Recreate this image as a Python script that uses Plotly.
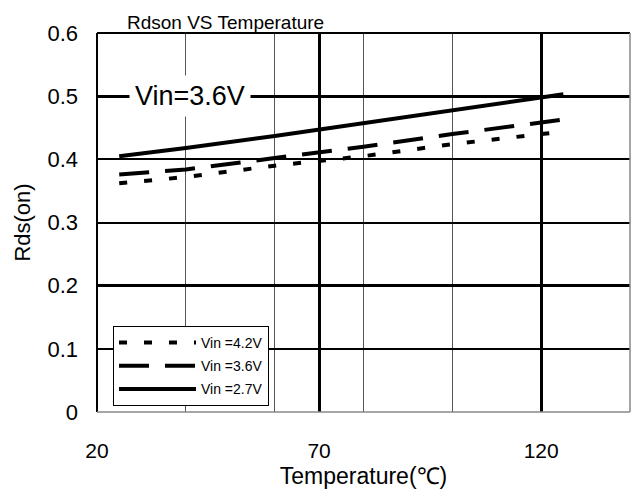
import plotly.graph_objects as go

temps = [25, 40, 60, 80, 100, 125]
rds_42 = [0.362, 0.372, 0.390, 0.405, 0.424, 0.444]
rds_36 = [0.376, 0.384, 0.402, 0.420, 0.440, 0.463]
rds_27 = [0.405, 0.418, 0.437, 0.457, 0.478, 0.503]
series_names = ["Vin =4.2V", "Vin =3.6V", "Vin =2.7V"]
x_ticks = [20, 70, 120]
x_minor = [40, 60, 80, 100]
y_ticks = [0, 0.1, 0.2, 0.3, 0.4, 0.5, 0.6]
y_labels = ["0", "0.1", "0.2", "0.3", "0.4", "0.5", "0.6"]
y_heavy = [0.2, 0.5]

FONT = "Liberation Sans, Arial, sans-serif"

fig = go.Figure()
fig.add_trace(go.Scatter(x=temps, y=rds_42, mode="lines", name=series_names[0], legendgroup="a",
                         line=dict(color="black", width=4, dash="8px,17px")))
fig.add_trace(go.Scatter(x=temps, y=rds_36, mode="lines", name=series_names[1], legendgroup="b",
                         line=dict(color="black", width=4, dash="30px,16px")))
fig.add_trace(go.Scatter(x=temps, y=rds_27, mode="lines", name=series_names[2], legendgroup="c",
                         line=dict(color="black", width=4)))
# invisible trace to carry the heavier gridlines on an overlay axis
fig.add_trace(go.Scatter(x=[temps[0]], y=[rds_27[0]], yaxis="y2", mode="lines",
                         showlegend=False, hoverinfo="skip", line=dict(width=0)))

fig.update_layout(
    width=640, height=493,
    margin=dict(l=97, r=10, t=33, b=81),
    plot_bgcolor="white", paper_bgcolor="white",
    font=dict(family=FONT, color="black"),
    showlegend=True,
    legend=dict(x=0.03, y=0.227, xanchor="left", yanchor="top",
                bordercolor="black", borderwidth=1, bgcolor="white",
                font=dict(size=14, family=FONT), itemwidth=77,
                tracegroupgap=2, traceorder="grouped"),
    xaxis=dict(range=[20, 140], tickvals=x_ticks, ticks="", showline=False, automargin=False,
               showgrid=True, gridcolor="black", gridwidth=3, zeroline=False,
               tickfont=dict(size=21), ticklabelstandoff=24,
               minor=dict(tickvals=x_minor, showgrid=True, gridcolor="#555", gridwidth=1, ticks=""),
               title=dict(text="Temperature(℃)", font=dict(size=23), standoff=6)),
    yaxis=dict(range=[0, 0.6], tickvals=y_ticks, ticktext=y_labels, ticks="", automargin=False,
               showline=False, showgrid=True, gridcolor="black", gridwidth=2,
               zeroline=False, tickfont=dict(size=22), ticklabelstandoff=18,
               title=dict(text="Rds(on)", font=dict(size=22), standoff=10)),
    yaxis2=dict(range=[0, 0.6], overlaying="y", tickvals=y_heavy, showticklabels=False,
                ticks="", showgrid=True, gridcolor="black", gridwidth=3, zeroline=False,
                showline=False, automargin=False),
    shapes=[
        dict(type="line", xref="paper", yref="paper", x0=0, x1=1, y0=1, y1=1, line=dict(color="black", width=2)),
        dict(type="line", xref="paper", yref="paper", x0=0, x1=0, y0=0, y1=1, line=dict(color="black", width=2)),
        dict(type="line", xref="paper", yref="paper", x0=1, x1=1, y0=0, y1=1, line=dict(color="#888", width=1.5)),
        dict(type="line", xref="paper", yref="paper", x0=0, x1=1, y0=0, y1=0, line=dict(color="#888", width=1.5)),
    ],
    annotations=[
        dict(text="Rdson VS Temperature", xref="paper", yref="paper", x=0.052, y=1.0,
             xanchor="left", yanchor="bottom", showarrow=False, yshift=-2,
             font=dict(size=19, family=FONT)),
        dict(text="Vin=3.6V", xref="x", yref="y", x=41, y=0.5, showarrow=False,
             bgcolor="white", borderpad=5, font=dict(size=27, family=FONT)),
    ],
)

fig.write_html("out.html", config={"displayModeBar": False},
               post_script="document.body.style.margin='0';document.body.style.overflow='hidden';")
